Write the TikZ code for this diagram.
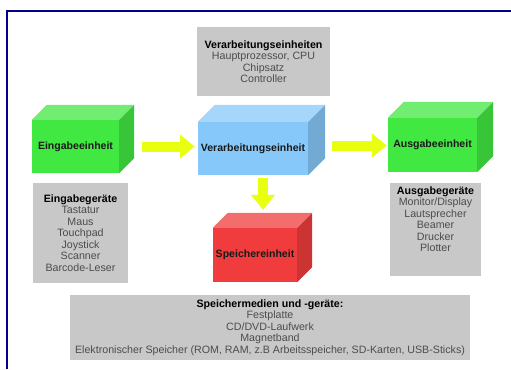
\documentclass[tikz,border=0pt]{standalone}
\usepackage{fontspec}
\setmainfont{Liberation Sans}
\usetikzlibrary{calc,arrows.meta}

\definecolor{rahmen}{RGB}{0,0,140}
\definecolor{grn}{RGB}{66,232,66}
\definecolor{blu}{RGB}{135,200,250}
\definecolor{rot}{RGB}{240,60,60}
\definecolor{gelb}{RGB}{232,255,16}
\definecolor{grau}{RGB}{200,200,200}

\begin{document}
\begin{tikzpicture}[x=0.03cm,y=-0.03cm,
  front/.style={inner sep=0pt,font=\fontsize{9}{10}\selectfont\bfseries,text=black!90},
  infobox/.style={fill=grau,align=center,inner sep=0pt,font=\fontsize{9.1}{9.8}\selectfont,text=black!70},
  fatarrow/.style={draw=gelb,line width=0.3cm,-{Triangle[length=0.45cm,width=0.7cm]}}]

\useasboundingbox (0,0) rectangle (511,369);
\draw[rahmen,line width=0.06cm] (7,369) -- (7,11) -- (511,11);

%front faces
\node[front,fill=grn,minimum width=2.61cm,minimum height=1.59cm](eing) at (75.5,146.5){Eingabeeinheit};
\node[front,fill=blu,minimum width=3.3cm,minimum height=1.59cm](verarb) at (253,148.5){Verarbeitungseinheit};
\node[front,fill=grn,minimum width=2.67cm,minimum height=1.62cm](ausg) at (432.5,145){Ausgabeeinheit};
\node[front,fill=rot,minimum width=2.52cm,minimum height=1.62cm](speich) at (255,255){Speichereinheit};

%top and side faces
\foreach \n/\c/\d in {eing/grn/15, verarb/blu/17, ausg/grn/16, speich/rot/15}
{
	\fill[\c!75!white] (\n.north west) -- ++(\d,-\d) -- ($(\n.north east)+(\d,-\d)$) -- (\n.north east) -- cycle;
	\fill[\c!85!black] (\n.north east) -- ++(\d,-\d) -- ($(\n.south east)+(\d,-\d)$) -- (\n.south east) -- cycle;
}

%grey boxes
\node[infobox,minimum width=3.99cm,minimum height=2.07cm](verarbbox) at (263.5,61.5)
	{\textcolor{black}{\bfseries Verarbeitungseinheiten}\\Hauptprozessor, CPU\\Chipsatz\\Controller};
\node[infobox,minimum width=2.85cm,minimum height=3cm](eingbox) at (80.5,233)
	{\textcolor{black}{\bfseries Eingabegeräte}\\Tastatur\\Maus\\Touchpad\\Joystick\\Scanner\\Barcode-Leser};
\node[infobox,minimum width=2.73cm,minimum height=2.79cm](ausgbox) at (435.5,229.5)
	{\textcolor{black}{\bfseries Ausgabegeräte}\\Monitor/Display\\Lautsprecher\\Beamer\\Drucker\\Plotter\\[8pt]\mbox{}};
\node[infobox,minimum width=12cm,minimum height=1.95cm](speichbox) at (270,327.5)
	{\textcolor{black}{\bfseries Speichermedien und -geräte:}\\Festplatte\\CD/DVD-Laufwerk\\Magnetband\\Elektronischer Speicher (ROM, RAM, z.B Arbeitsspeicher, SD-Karten, USB-Sticks)};

%arrows
\draw[fatarrow,shorten <=0.69cm,shorten >=0.09cm](eing.east) -- (eing.east -| verarb.west);
\draw[fatarrow,shorten <=0.72cm,shorten >=0.03cm]([yshift=0.09cm]verarb.east) -- ([yshift=0.09cm]verarb.east -| ausg.west);
\draw[fatarrow,shorten <=0.09cm,shorten >=0.54cm]([xshift=0.3cm]verarb.south) -- ([xshift=0.3cm]verarb.south |- speich.north);
\end{tikzpicture}
\end{document}
